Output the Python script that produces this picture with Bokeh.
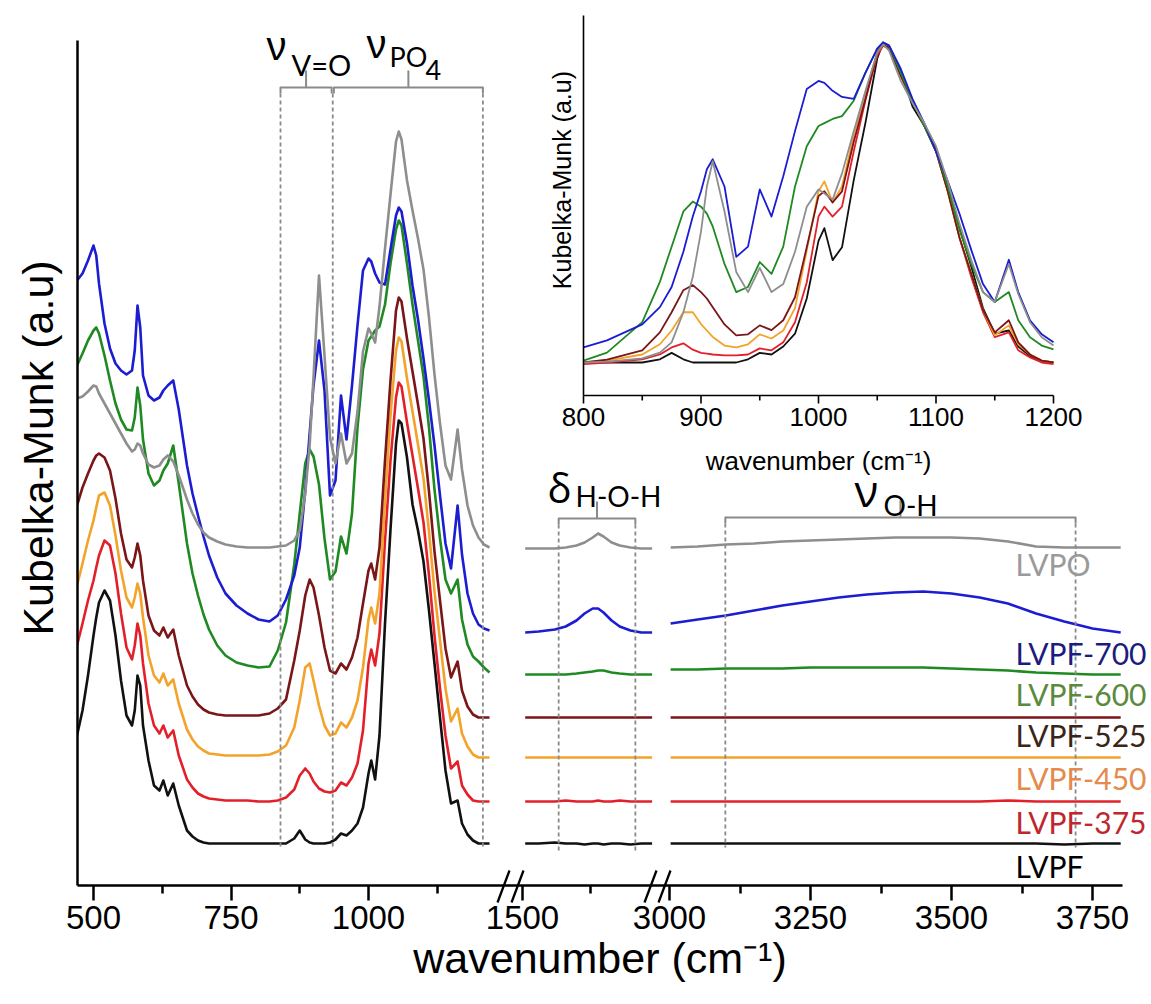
from math import pi
from bokeh.plotting import figure
from bokeh.models import Range1d, FixedTicker
from bokeh.core.properties import value
from bokeh.embed import file_html
from bokeh.resources import INLINE

# ---------------- data (arbitrary units) ----------------
series = ["LVPF", "LVPF-375", "LVPF-450", "LVPF-525", "LVPF-600", "LVPF-700", "LVPO"]

wn_seg1 = [470, 480, 490, 500, 505, 510, 520, 530, 540, 550, 560, 570, 575, 580, 585, 590,
           600, 610, 620, 627, 635, 645,
           655, 670, 680, 690, 700, 710, 725, 740, 760, 780, 800, 820, 835, 850,
           865, 875, 885, 893, 900, 910, 920, 930, 940, 950, 960, 970, 980, 990, 1000,
           1005, 1012, 1020, 1030, 1040, 1050, 1055, 1060, 1070, 1080, 1090, 1100, 1110,
           1120, 1130, 1140, 1150, 1162, 1170, 1180, 1190, 1200, 1210, 1220]
lvpf_seg1 = [150, 175, 210, 250, 268, 283, 295, 285, 250, 205, 170, 160, 175, 210, 200, 160,
             125, 100, 95, 105, 90, 102,
             80, 55, 49, 45, 43, 42, 42, 42, 42, 42, 42, 42, 42, 42,
             47, 55, 46, 43, 42, 42, 42, 43, 46, 52, 50, 55, 62, 78, 112,
             125, 106, 150, 262, 356, 442, 465, 462, 428, 381, 355, 324, 275,
             222, 168, 115, 82, 85, 62, 51, 45, 42, 42, 42]
lvpf375_seg1 = [240, 262, 285, 305, 318, 330, 345, 340, 312, 272, 238, 226, 240, 262, 250, 222,
                182, 160, 152, 160, 148, 155,
                130, 106, 98, 92, 89, 87, 86, 85, 85, 85, 84, 84, 85, 88,
                96, 110, 117, 112, 104, 97, 94, 93, 95, 103, 100, 108, 122, 155, 222,
                236, 220, 252, 345, 425, 488, 503, 499, 463, 430, 397, 363, 310,
                250, 197, 150, 117, 124, 100, 91, 85, 84, 84, 84]
lvpf450_seg1 = [300, 322, 345, 365, 378, 390, 393, 380, 350, 315, 288, 278, 288, 302, 292, 268,
                230, 210, 203, 212, 200, 206,
                182, 156, 146, 139, 135, 132, 131, 130, 130, 130, 130, 131, 134, 140,
                158, 185, 218, 222, 205, 180, 160, 150, 152, 163, 158, 168, 185, 218, 266,
                278, 262, 292, 385, 470, 535, 548, 544, 507, 474, 441, 407, 354,
                294, 245, 197, 164, 177, 152, 139, 131, 128, 128, 128]
lvpf525_seg1 = [380, 398, 412, 425, 430, 432, 428, 415, 387, 352, 326, 318, 328, 342, 330, 305,
                270, 255, 250, 258, 248, 256,
                230, 200, 189, 181, 176, 173, 171, 170, 170, 170, 170, 172, 177, 186,
                225, 255, 290, 306, 298, 270, 238, 215, 212, 222, 216, 228, 248, 282, 315,
                322, 306, 338, 425, 505, 575, 588, 584, 547, 514, 481, 447, 394,
                334, 285, 237, 208, 224, 195, 179, 171, 168, 168, 168]
lvpf600_seg1 = [520, 532, 545, 555, 558, 552, 530, 505, 482, 466, 456, 455, 468, 498, 480, 446,
                412, 400, 405, 415, 422, 440,
                402, 342, 312, 290, 271, 256, 240, 230, 223, 220, 218, 219, 235, 263,
                321, 372, 422, 436, 429, 401, 347, 306, 314, 349, 332, 372, 458, 516, 545,
                549, 555, 559, 581, 622, 656, 665, 660, 622, 581, 545, 509, 458,
                396, 347, 306, 292, 306, 266, 241, 229, 224, 218, 213]
lvpf700_seg1 = [605, 612, 625, 640, 630, 602, 562, 537, 522, 515, 511, 515, 535, 580, 558, 510,
                490, 485, 488, 495, 500, 505,
                476, 420, 392, 370, 349, 330, 308, 292, 280, 272, 266, 264, 270, 286,
                310, 338, 395, 452, 500, 545, 495, 390, 405, 490, 446, 500, 560, 615, 627,
                624, 612, 603, 601, 636, 670, 678, 674, 642, 600, 566, 527, 485,
                440, 390, 342, 317, 380, 331, 292, 272, 261, 257, 255]
lvpo_seg1 = [487, 489, 494, 500, 499, 492, 482, 472, 462, 452, 442, 434, 436, 442, 440, 432,
             421, 418, 420, 426, 430, 424,
             410, 386, 372, 361, 353, 348, 344, 341, 339, 338, 338, 338, 339, 340,
             345, 355, 392, 440, 508, 610, 530, 448, 422, 452, 422, 432, 474, 534, 557,
             552, 543, 579, 637, 691, 744, 754, 746, 705, 675, 647, 616, 568,
             511, 462, 420, 406, 456, 416, 380, 360, 348, 341, 338]

wn_seg2 = [1505, 1530, 1560, 1580, 1600, 1615, 1630, 1640, 1650, 1665, 1680, 1700, 1720, 1740]
lvpf_seg2 = [42, 42, 43, 42, 42, 41, 42, 42, 41, 42, 42, 41, 42, 42]
lvpf375_seg2 = [84, 84, 84, 85, 84, 84, 84, 85, 84, 84, 85, 84, 84, 84]
lvpf450_seg2 = [128, 128, 128, 128, 128, 128, 128, 128, 128, 128, 128, 128, 128, 128]
lvpf525_seg2 = [168, 168, 168, 168, 168, 168, 168, 168, 168, 168, 168, 168, 168, 168]
lvpf600_seg2 = [211, 211, 211, 211, 212, 213, 214, 215, 215, 213, 212, 211, 211, 211]
lvpf700_seg2 = [253, 254, 256, 259, 265, 272, 277, 277, 273, 265, 259, 255, 253, 253]
lvpo_seg2 = [337, 337, 337, 338, 340, 343, 348, 352, 349, 343, 340, 338, 337, 337]

wn_seg3 = [3002, 3050, 3100, 3150, 3200, 3250, 3300, 3350, 3400, 3450, 3500, 3550, 3600,
           3650, 3700, 3750, 3800]
lvpf_seg3 = [42, 42, 42, 42, 42, 42, 42, 42, 42, 42, 42, 42, 42, 42, 41, 42, 42]
lvpf375_seg3 = [84, 84, 84, 84, 84, 84, 84, 84, 84, 84, 84, 84, 85, 84, 84, 84, 84]
lvpf450_seg3 = [128, 128, 128, 128, 128, 128, 128, 128, 128, 128, 128, 128, 128, 128, 128, 128, 128]
lvpf525_seg3 = [168, 168, 168, 168, 168, 168, 168, 168, 168, 168, 168, 168, 168, 168, 168, 168, 168]
lvpf600_seg3 = [216, 216, 217, 217, 217, 218, 218, 218, 218, 218, 217, 216, 215, 213, 212, 211, 211]
lvpf700_seg3 = [262, 266, 270, 275, 280, 284, 288, 291, 293, 294, 292, 288, 282, 272, 264, 257, 253]
lvpo_seg3 = [338, 339, 341, 342, 344, 345, 346, 347, 348, 348, 348, 347, 344, 339, 338, 338, 338]

# inset (normalised, %)
wn_inset = [800, 820, 850, 865, 875, 885, 893, 900, 905, 910, 920, 930, 940, 950, 960, 970,
            980, 990, 1000, 1005, 1012, 1020, 1030, 1040, 1050, 1055, 1060, 1070, 1080, 1090,
            1100, 1110, 1120, 1130, 1140, 1150, 1162, 1170, 1180, 1190, 1200]
lvpf_inset = [0, 0, 0, 1, 3, 1, 0, 0, 0, 0, 0, 0, 1, 3, 2.5, 5,
              9, 20, 38, 42, 32, 36, 57, 75, 95, 100, 99, 91, 80, 74,
              67, 55, 42, 30, 17, 9, 10, 5, 2, 0.5, 0]
lvpf375_inset = [-0.5, 0, 1, 2.5, 4.7, 6, 4, 3, 2.8, 2.5, 2.2, 2.2, 2.5, 4.4, 3.8, 6.3,
                 12.6, 25, 45.6, 48.7, 45.6, 48.7, 66, 82, 96, 99, 98, 89.6, 81.8, 74,
                 66, 53.5, 39, 26.7, 15.7, 7.9, 9.4, 3.8, 1.6, 0, -0.5]
lvpf450_inset = [0, 0.6, 2.5, 5.7, 10, 15.7, 15.7, 12, 10, 8, 5.3, 4.7, 5.7, 8.8, 7.5, 10,
                 17, 35, 53.5, 56.6, 50, 55, 71, 84, 97, 99.4, 98.4, 89.6, 81.8, 74,
                 66, 53.5, 39, 27.7, 16.4, 8.5, 11.6, 5.7, 2.5, 0.6, 0]
lvpf525_inset = [0, 0.9, 3.8, 9.4, 15.7, 22.6, 24.2, 22, 20, 17.3, 11.9, 8.5, 8.8, 11.6, 10.1, 13.2,
                 20.4, 36, 52, 53.5, 50, 53.5, 69, 82.4, 97, 99.4, 98.4, 89.6, 81.8, 74,
                 66, 53.5, 39, 27.7, 16.4, 9.4, 13.2, 6.3, 2.5, 0.6, 0]
lvpf600_inset = [0.6, 3.1, 12.6, 25.2, 36.2, 47.2, 50.3, 48.7, 46.5, 42.5, 30.8, 22, 23.6, 31.4, 27.7, 36.2,
                 55, 67.6, 73.9, 74.8, 76.1, 77, 81.8, 90.6, 98.1, 100, 99, 90.6, 81.8, 73.9,
                 66, 55, 41.5, 30.8, 22, 18.9, 22, 13.2, 7.9, 5.3, 4.1]
lvpf700_inset = [4.7, 6.9, 11.9, 17.3, 23.6, 34.6, 45.6, 53.5, 60.4, 63.5, 55, 33, 36.2, 54.1, 45.6, 58.2,
                 72.3, 85.5, 88, 87.4, 84.9, 83, 82.4, 90.6, 98.1, 100, 99.1, 91.8, 82.4, 74.8,
                 66, 56.6, 46.5, 35.2, 24.5, 18.9, 32.1, 22, 13.2, 8.8, 6.3]
lvpo_inset = [0, 0.3, 1.3, 3.1, 6.3, 15.7, 26.7, 40.9, 55, 62.9, 47.2, 28.3, 22, 29.6, 22, 24.5,
              34.6, 48.7, 54.1, 52.8, 50.9, 59.1, 72.3, 84.9, 96.9, 99.4, 97.5, 88, 81.1, 74.8,
              67.6, 56.6, 43.4, 32.1, 22, 18.9, 30.8, 21.4, 12.6, 7.9, 5.3]

# axis ticks (wavenumber)
ticks_seg1, minor_seg1 = [500, 750, 1000], [625, 875, 1125]
ticks_seg2, minor_seg2 = [1500], [1625]
ticks_seg3, minor_seg3 = [3000, 3250, 3500, 3750], [3125, 3375, 3625]
inset_ticks = [800, 900, 1000, 1100, 1200]
inset_minor = [850, 950, 1050, 1150]

# ---------------- styling / layout ----------------
line_colors = ["#111111", "#e3202a", "#f3a22a", "#7a1518", "#1f8a22", "#1c1cd2", "#8e8e8e"]
label_colors = ["#000000", "#c0262d", "#e48a4c", "#3a2616", "#5b8a3c", "#1c1c7e", "#9a9a9a"]
label_y = [20, 64, 108, 151, 192, 233, 322]   # label centres (vertical units of the main plot)

X0, X1 = 77, 1122          # horizontal frame coordinates (page px)
Y0, Y1 = 0, 875
seg_map = {"s1": (1000, 368.0, 0.55), "s2": (1500, 522.0, 0.54), "s3": (3000, 669.0, 0.564)}


def vx(seg, wn):
    ref, px, k = seg_map[seg]
    return round(px + (wn - ref) * k, 2)


p = figure(width=1150, height=1000, x_range=Range1d(X0, X1), y_range=Range1d(Y0, Y1),
           output_backend="svg", toolbar_location=None,
           min_border_left=77, min_border_right=28, min_border_top=10, min_border_bottom=115)
p.outline_line_color = None
p.xgrid.visible = False
p.ygrid.visible = False
p.background_fill_color = "white"

extra = {}
for seg, (ref, px, k) in seg_map.items():
    extra[seg] = Range1d(ref + (X0 - px) / k, ref + (X1 - px) / k)
# inset ranges: 800 cm-1 -> 583 px, 1.175 px per cm-1 ; 0 % -> 523, 3.2 per %
IX_REF, IX_PX, IX_K = 800, 583.0, 1.175
IY_PX, IY_K = 523.0, 3.2
extra["ix"] = Range1d(IX_REF + (X0 - IX_PX) / IX_K, IX_REF + (X1 - IX_PX) / IX_K)
p.extra_x_ranges = extra
p.extra_y_ranges = {"iy": Range1d((Y0 - IY_PX) / IY_K, (Y1 - IY_PX) / IY_K)}

# ---------------- main spectra ----------------
seg1_vals = [lvpf_seg1, lvpf375_seg1, lvpf450_seg1, lvpf525_seg1, lvpf600_seg1, lvpf700_seg1, lvpo_seg1]
seg2_vals = [lvpf_seg2, lvpf375_seg2, lvpf450_seg2, lvpf525_seg2, lvpf600_seg2, lvpf700_seg2, lvpo_seg2]
seg3_vals = [lvpf_seg3, lvpf375_seg3, lvpf450_seg3, lvpf525_seg3, lvpf600_seg3, lvpf700_seg3, lvpo_seg3]
inset_vals = [lvpf_inset, lvpf375_inset, lvpf450_inset, lvpf525_inset, lvpf600_inset, lvpf700_inset, lvpo_inset]

for col, a, b, c in zip(line_colors, seg1_vals, seg2_vals, seg3_vals):
    p.line(wn_seg1, a, x_range_name="s1", line_color=col, line_width=2.6, line_join="round")
    p.line(wn_seg2, b, x_range_name="s2", line_color=col, line_width=2.6, line_join="round")
    p.line(wn_seg3, c, x_range_name="s3", line_color=col, line_width=2.6, line_join="round")

# ---------------- brackets & dashed guides ----------------
GREY = "#8a8a8a"
brk = [("s1", 840, 933, 798), ("s1", 937, 1208, 798), ("s2", 1567, 1709, 367), ("s3", 3099, 3720, 368)]
for seg, l, r, top in brk:
    p.multi_line(xs=[[l, l, r, r], [(l + r) / 2, (l + r) / 2]], ys=[[top - 6, top, top, top - 6], [top, top + 17]],
                 x_range_name=seg, line_color=GREY, line_width=2, line_join="round")
dash = [("s1", [840, 935, 1208], 798, 37), ("s2", [1567, 1709], 367, 32), ("s3", [3099, 3720], 368, 38)]
for seg, xs, top, bot in dash:
    p.segment(x0=xs, y0=[top - 6] * len(xs), x1=xs, y1=[bot] * len(xs), x_range_name=seg,
              line_color=GREY, line_width=1.8, line_dash="4 3", level="overlay")


def txt(x, y, s, size, font="Lato", color="black"):
    p.text(x=[x], y=[y], text=[s], text_font=value(font), text_font_size=value(size),
           text_color=color, text_baseline="alphabetic", text_align="left", level="overlay")


# nu(V=O): nu baseline above the subscript's baseline
txt(266, 840, "ν", "40px", "Liberation Sans")
txt(291, 821, "V=O", "29px")
# nu(PO4)
txt(366, 842, "ν", "40px", "Liberation Sans")
txt(389, 829, "PO", "27px")
txt(425, 816, "4", "27px")
# delta(H-O-H) and nu(O-H)
txt(547, 398, "δ", "40px", "Open Sans")
txt(575, 390, "H-O-H", "28px")
txt(854, 396, "ν", "44px", "Open Sans")
txt(883, 381, "O-H", "28px")

# series labels
p.text(x=[1015] * len(series), y=label_y, text=series, text_color=label_colors,
       text_font=value("Lato"), text_font_size=value("30px"), text_baseline="middle",
       text_align="left", level="overlay")

# axis break marks
bx = [503, 517, 650, 664]
p.segment(x0=[b - 6 for b in bx], y0=[-17] * 4, x1=[b + 6 for b in bx], y1=[15] * 4,
          line_color="black", line_width=2.3, level="overlay")

# ---------------- inset ----------------
for col, v in zip(line_colors, inset_vals):
    p.line(wn_inset, v, x_range_name="ix", y_range_name="iy", line_color=col, line_width=1.8,
           line_join="round")
AX_Y = (490 - IY_PX) / IY_K
TOP_Y = (870 - IY_PX) / IY_K
p.segment(x0=[800, 800], y0=[AX_Y, AX_Y], x1=[1200, 800], y1=[AX_Y, TOP_Y], x_range_name="ix",
          y_range_name="iy", line_color="black", line_width=1.6)
p.segment(x0=inset_ticks, y0=[AX_Y] * 5, x1=inset_ticks, y1=[AX_Y - 8 / IY_K] * 5, x_range_name="ix",
          y_range_name="iy", line_color="black", line_width=1.6)
p.segment(x0=inset_minor, y0=[AX_Y] * 4, x1=inset_minor, y1=[AX_Y - 5 / IY_K] * 4, x_range_name="ix",
          y_range_name="iy", line_color="black", line_width=1.6)
p.text(x=inset_ticks, y=[AX_Y - 12 / IY_K] * 5, text=[str(t) for t in inset_ticks], x_range_name="ix",
       y_range_name="iy", text_font=value("Liberation Sans"), text_font_size=value("26px"),
       text_align="center", text_baseline="top", text_color="black")
p.text(x=[1000], y=[AX_Y - 50 / IY_K], text=["wavenumber (cm⁻¹)"], x_range_name="ix", y_range_name="iy",
       text_font=value("Liberation Sans"), text_font_size=value("26px"), text_align="center",
       text_baseline="top", text_color="black")
p.text(x=[800 - 8 / IX_K], y=[57], text=["Kubelka-Munk (a.u)"], x_range_name="ix", y_range_name="iy",
       angle=pi / 2, text_font=value("Liberation Sans"), text_font_size=value("25px"),
       text_align="center", text_baseline="bottom", text_color="black")

# ---------------- main axes ----------------
major_px, minor_px, overrides = [], [], {}
for seg, tk, mn in [("s1", ticks_seg1, minor_seg1), ("s2", ticks_seg2, minor_seg2), ("s3", ticks_seg3, minor_seg3)]:
    for t in tk:
        v = vx(seg, t)
        major_px.append(v)
        overrides[v] = str(t)
    minor_px += [vx(seg, t) for t in mn]

xa = p.xaxis[0]
xa.ticker = FixedTicker(ticks=major_px, minor_ticks=minor_px)
xa.major_label_overrides = overrides
xa.axis_line_width = 2.5
xa.axis_line_color = "black"
xa.major_tick_line_width = 2.5
xa.minor_tick_line_width = 2.5
xa.major_tick_out = 15
xa.major_tick_in = 0
xa.minor_tick_out = 8
xa.minor_tick_in = 0
xa.major_label_standoff = 5
xa.major_label_text_font = "Liberation Sans"
xa.major_label_text_font_size = "33px"
xa.major_label_text_color = "black"
xa.axis_label = "wavenumber (cm⁻¹)"
xa.axis_label_text_font = "Liberation Sans"
xa.axis_label_text_font_size = "43px"
xa.axis_label_text_font_style = "normal"
xa.axis_label_standoff = 2
xa.axis_label_text_color = "black"

ya = p.yaxis[0]
ya.ticker = FixedTicker(ticks=[])
ya.bounds = (0, 845)
ya.axis_line_width = 2.5
ya.axis_line_color = "black"
ya.major_tick_out = 0
ya.minor_tick_out = 0
ya.axis_label = "Kubelka-Munk (a.u)"
ya.axis_label_text_font = "Liberation Sans"
ya.axis_label_text_font_size = "43px"
ya.axis_label_text_font_style = "normal"
ya.axis_label_standoff = 16
ya.axis_label_text_color = "black"

open("out.html", "w").write(file_html(p, INLINE))
